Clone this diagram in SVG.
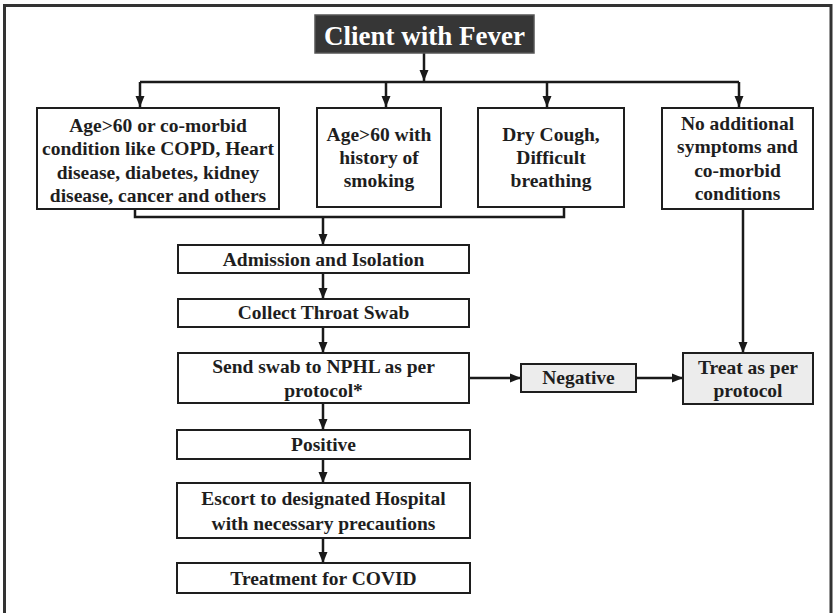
<svg xmlns="http://www.w3.org/2000/svg" width="835" height="613" viewBox="0 0 835 613">
<defs>
<marker id="ah" markerUnits="userSpaceOnUse" markerWidth="12" markerHeight="12" viewBox="0 0 12 12" refX="11" refY="6" orient="auto">
<path d="M0,1.5 L11,6 L0,10.5 Z" fill="#1a1a1a"/>
</marker>
<style>
.box{fill:#ffffff;stroke:#1e1e1e;stroke-width:2}
.gbox{fill:#ececec;stroke:#1e1e1e;stroke-width:2}
.t{font-family:"Liberation Serif","Times New Roman",serif;font-weight:bold;font-size:19.5px;fill:#1e1e1e;text-anchor:middle}
.title{font-family:"Liberation Serif","Times New Roman",serif;font-weight:bold;font-size:27px;fill:#ffffff;text-anchor:middle}
.c{fill:none;stroke:#1a1a1a;stroke-width:2.5}
.a{fill:none;stroke:#1a1a1a;stroke-width:2.5;marker-end:url(#ah)}
</style>
</defs>
<rect x="0" y="0" width="835" height="613" fill="#ffffff"/>
<rect x="4.5" y="5.5" width="826.5" height="620" fill="none" stroke="#333333" stroke-width="3"/>

<g id="connectors">
<line class="a" x1="424" y1="53" x2="424" y2="81"/>
<line class="c" x1="140" y1="82" x2="739" y2="82"/>
<line class="a" x1="140" y1="82" x2="140" y2="107"/>
<line class="a" x1="386" y1="82" x2="386" y2="107"/>
<line class="a" x1="547" y1="82" x2="547" y2="107"/>
<line class="a" x1="739" y1="82" x2="739" y2="107"/>
<polyline class="c" points="135,209 135,217 564,217 564,207"/>
<line class="a" x1="323" y1="217" x2="323" y2="245"/>
<line class="a" x1="323" y1="273" x2="323" y2="299"/>
<line class="a" x1="323" y1="327" x2="323" y2="353"/>
<line class="a" x1="323" y1="403" x2="323" y2="430"/>
<line class="a" x1="323" y1="459" x2="323" y2="483"/>
<line class="a" x1="323" y1="538" x2="323" y2="563"/>
<line class="a" x1="469" y1="378" x2="521" y2="378"/>
<line class="a" x1="636" y1="378" x2="683" y2="378"/>
<line class="a" x1="743" y1="209" x2="743" y2="353"/>
</g>

<g id="n-title">
<rect x="315" y="15" width="219" height="38" fill="#363636" stroke="#555555" stroke-width="1.5"/>
<text class="title" x="424.5" y="45">Client with Fever</text>
</g>

<g id="n-age-comorbid">
<rect class="box" x="37" y="108" width="242" height="101"/>
<text class="t" x="158" y="132">Age&gt;60 or co-morbid</text>
<text class="t" x="158" y="155">condition like COPD, Heart</text>
<text class="t" x="158" y="179">disease, diabetes, kidney</text>
<text class="t" x="158" y="202">disease, cancer and others</text>
</g>

<g id="n-age-smoking">
<rect class="box" x="317" y="108" width="124" height="99"/>
<text class="t" x="379" y="141">Age&gt;60 with</text>
<text class="t" x="379" y="164">history of</text>
<text class="t" x="379" y="187">smoking</text>
</g>

<g id="n-cough">
<rect class="box" x="478" y="108" width="146" height="99"/>
<text class="t" x="551" y="141">Dry Cough,</text>
<text class="t" x="551" y="164">Difficult</text>
<text class="t" x="551" y="187">breathing</text>
</g>

<g id="n-no-symptoms">
<rect class="box" x="662" y="108" width="151" height="101"/>
<text class="t" x="737.5" y="130">No additional</text>
<text class="t" x="737.5" y="153">symptoms and</text>
<text class="t" x="737.5" y="177">co-morbid</text>
<text class="t" x="737.5" y="200">conditions</text>
</g>

<g id="n-admission">
<rect class="box" x="178" y="245" width="291" height="28"/>
<text class="t" x="323.5" y="266">Admission and Isolation</text>
</g>

<g id="n-collect">
<rect class="box" x="178" y="299" width="291" height="28"/>
<text class="t" x="323.5" y="319">Collect Throat Swab</text>
</g>

<g id="n-send">
<rect class="box" x="178" y="353" width="291" height="50"/>
<text class="t" x="323.5" y="373">Send swab to NPHL as per</text>
<text class="t" x="323.5" y="397">protocol*</text>
</g>

<g id="n-negative">
<rect class="gbox" x="521" y="364" width="115" height="28"/>
<text class="t" x="578.5" y="384">Negative</text>
</g>

<g id="n-treat-protocol">
<rect class="gbox" x="683" y="353" width="130" height="51"/>
<text class="t" x="748" y="374">Treat as per</text>
<text class="t" x="748" y="397">protocol</text>
</g>

<g id="n-positive">
<rect class="box" x="177" y="430" width="293" height="29"/>
<text class="t" x="323.5" y="451">Positive</text>
</g>

<g id="n-escort">
<rect class="box" x="177" y="483" width="293" height="55"/>
<text class="t" x="323.5" y="505">Escort to designated Hospital</text>
<text class="t" x="323.5" y="530">with necessary precautions</text>
</g>

<g id="n-treatment">
<rect class="box" x="177" y="563" width="293" height="30"/>
<text class="t" x="323.5" y="585">Treatment for COVID</text>
</g>
</svg>
